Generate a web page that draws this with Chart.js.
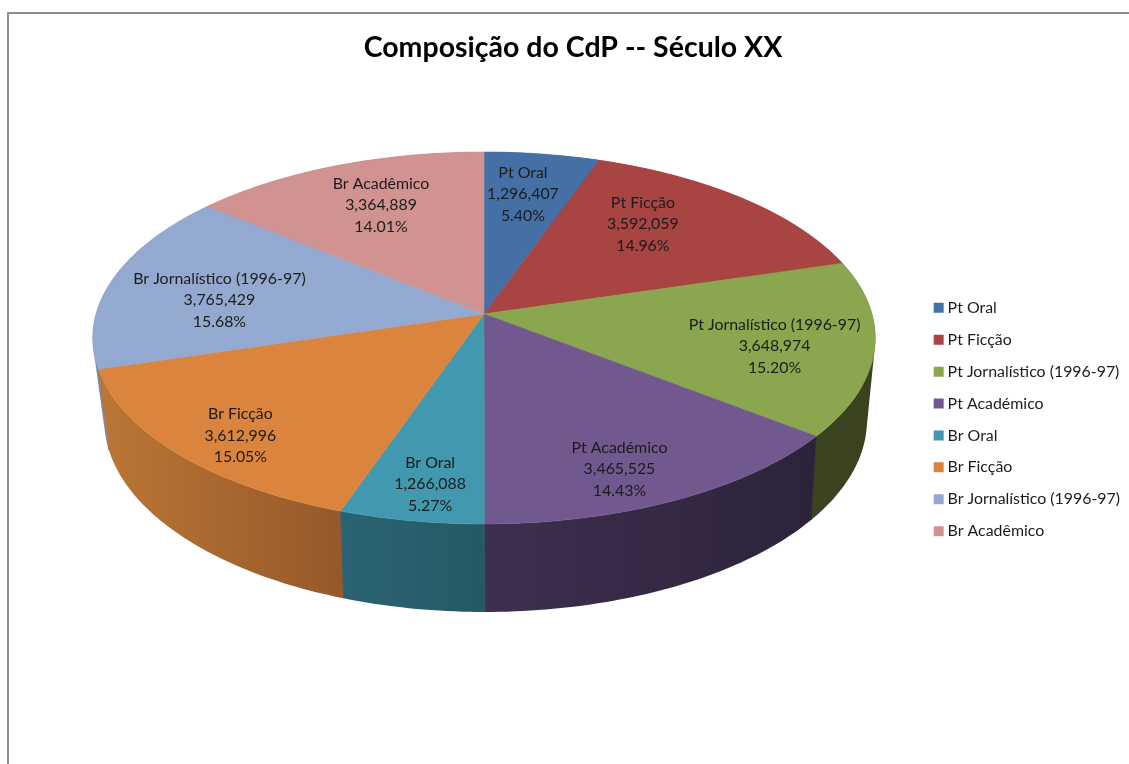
<!DOCTYPE html>
<html><head><meta charset="utf-8">
<style>html,body{margin:0;padding:0;background:#fff;overflow:hidden}canvas{display:block}</style>
<script src="https://cdn.jsdelivr.net/npm/chart.js@4/dist/chart.umd.min.js"></script>
</head><body>
<canvas id="c" width="1129" height="764"></canvas>
<script>
const categories = ["Pt Oral","Pt Ficção","Pt Jornalístico (1996-97)","Pt Académico","Br Oral","Br Ficção","Br Jornalístico (1996-97)","Br Acadêmico"];
const values = [1296407,3592059,3648974,3465525,1266088,3612996,3765429,3364889];
const sliceColors = ["#4470A5","#A84442","#8AA64F","#71588F","#4198AF","#DB843D","#93A9CF","#D19392"];
const wallLeft = ["#2C4A6E","#6E2C2B","#3B4321","#3F2F4F","#2B6374","#BC7735","#6F8AB9","#8A6160"];
const wallRight = ["#2C4A6E","#6E2C2B","#3A4220","#2C233A","#255864","#95582A","#6F8AB9","#8A6160"];
const labelRadius = [0.725,0.683,0.752,0.826,0.839,0.843,0.693,0.707];
const labelAngle = [8.7,39.8,103.1,157.6,188.5,223.3,276.4,336];
const LABEL_FONT = '15.9px Lato';

// perspective of the upper and lower disc of the 3D pie
const topDisc = {cx:484, K:388, Kl:388, a:314, b:-142.4, c:0.129};
const lowDisc = {cx:484.5, K:378.7, Kl:376.5, a:393.3, b:-133, c:0.14};
function project(d,u,v){const w=1+d.c*v;return [d.cx+(u<0?d.Kl:d.K)*u/w,(d.a+d.b*v)/w];}
function rim(d,ang,r){return project(d,r*Math.cos(ang),-r*Math.sin(ang));}

const pie3d = {
  id:'pie3d',
  beforeDraw(chart){
    const x=chart.ctx;
    x.save();x.fillStyle='#fff';x.fillRect(0,0,chart.width,chart.height);
    x.fillStyle='#8E8E8E';x.fillRect(7,12,chart.width-7,2);x.fillRect(7,12,2,chart.height-12);
    x.restore();
  },
  beforeDatasetsDraw(chart){
    const x=chart.ctx, arcs=chart.getDatasetMeta(0).data;
    const step=Math.PI/180;
    const mid=i=>(arcs[i].startAngle+arcs[i].endAngle)/2;
    const order=arcs.map((a,i)=>i).sort((p,q)=>Math.sin(mid(p))-Math.sin(mid(q)));
    x.save();
    // side walls, back to front: all strips of a slice in one path, same winding
    order.forEach(i=>{
      const s=arcs[i].startAngle,e=arcs[i].endAngle;
      const up=[],lo=[];
      for(let t=s;t<e;t+=step){up.push(rim(topDisc,t,1));lo.push(rim(lowDisc,t,1));}
      up.push(rim(topDisc,e,1));lo.push(rim(lowDisc,e,1));
      const xs=up.concat(lo).map(p=>p[0]);
      const g=x.createLinearGradient(Math.min(...xs),0,Math.max(...xs),0);
      g.addColorStop(0,wallLeft[i]);g.addColorStop(1,wallRight[i]);
      x.fillStyle=g;x.strokeStyle=g;x.lineWidth=0.8;
      x.beginPath();
      for(let k=0;k<up.length-1;k++){
        let q=[up[k],up[k+1],lo[k+1],lo[k]];
        let area=0;
        q.forEach((p,n)=>{const r=q[(n+1)%4];area+=p[0]*r[1]-r[0]*p[1];});
        if(area<0)q=q.reverse();
        x.moveTo(q[0][0],q[0][1]);x.lineTo(q[1][0],q[1][1]);x.lineTo(q[2][0],q[2][1]);x.lineTo(q[3][0],q[3][1]);x.closePath();
      }
      x.fill();
      const n=up.length-1;
      x.beginPath();
      x.moveTo(up[0][0],up[0][1]);x.lineTo(lo[0][0],lo[0][1]);
      x.moveTo(up[n][0],up[n][1]);x.lineTo(lo[n][0],lo[n][1]);
      x.stroke();
    });
    // top face
    const apex=project(topDisc,0,0);
    arcs.forEach((arc,i)=>{
      x.beginPath();x.moveTo(apex[0],apex[1]);
      for(let t=arc.startAngle;t<arc.endAngle;t+=step){const p=rim(topDisc,t,1);x.lineTo(p[0],p[1]);}
      const p=rim(topDisc,arc.endAngle,1);x.lineTo(p[0],p[1]);x.closePath();
      x.fillStyle=sliceColors[i];x.strokeStyle=sliceColors[i];x.lineWidth=0.6;x.fill();x.stroke();
    });
    // data labels
    const total=values.reduce((p,q)=>p+q,0);
    x.fillStyle='#1c1c1c';x.font=LABEL_FONT;x.textAlign='center';x.textBaseline='middle';
    arcs.forEach((arc,i)=>{
      const t=labelAngle[i]*Math.PI/180-Math.PI/2;
      const p=rim(topDisc,t,labelRadius[i]);
      const lines=[categories[i],values[i].toLocaleString('en-US'),(values[i]/total*100).toFixed(2)+'%'];
      lines.forEach((l,k)=>x.fillText(l,p[0],p[1]+(k-1)*21.5));
    });
    x.restore();
    return false;
  }
};

new Chart(document.getElementById('c'),{
  type:'pie',
  data:{labels:categories,datasets:[{data:values,backgroundColor:sliceColors,borderWidth:0}]},
  plugins:[pie3d],
  options:{
    responsive:false,animation:false,devicePixelRatio:1,
    layout:{padding:{left:16,right:-1,top:31,bottom:-44}},
    plugins:{
      tooltip:{enabled:false},
      title:{display:true,text:'Composição do CdP -- Século XX',color:'#000',
        font:{family:'Lato',size:28.5,weight:'bold'},padding:{top:0,bottom:20}},
      legend:{display:true,position:'right',align:'center',
        labels:{color:'#1c1c1c',usePointStyle:true,pointStyle:'rect',boxWidth:2,boxHeight:10,padding:16,font:{family:'Lato',size:15.9}}}
    }
  }
});
</script>
</body></html>
